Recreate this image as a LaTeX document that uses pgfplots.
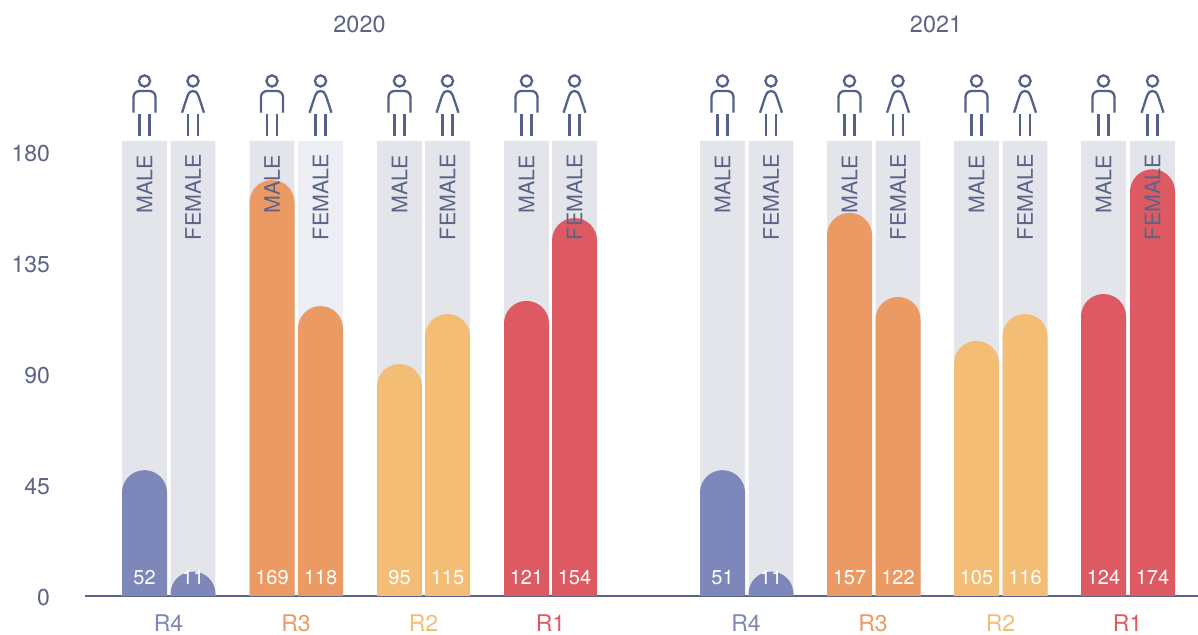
\documentclass[border=0pt]{standalone}
\usepackage{fontspec}
\setmainfont{TeX Gyre Heros}
\usepackage{pgfplots}
\pgfplotsset{compat=1.18}

\definecolor{colR4}{HTML}{7D87B9}
\definecolor{colR3}{HTML}{EB9A63}
\definecolor{colR2}{HTML}{F3BD76}
\definecolor{colR1}{HTML}{DE5A62}
\definecolor{colBack}{HTML}{E3E5EB}
\definecolor{colBackLight}{HTML}{ECEEF3}
\definecolor{colText}{HTML}{5B6488}
\definecolor{colIcon}{HTML}{56618A}

% rounded-top bar: centre x in px, height, printed value, colour
\newcommand{\rbar}[4]{%
  \addplot[fill=#4,draw=none,rounded corners=11.2pt] coordinates {
    (#1-22.5,-30) (#1-22.5,#2) (#1+22.5,#2) (#1+22.5,-30)} --cycle;
  \node[text=white,font=\fontsize{10}{12}\selectfont,inner sep=0pt,anchor=center]
    at (axis cs:#1,7.6) {#3};
}
\newcommand{\man}[1]{%
  \begin{scope}[xshift=#1*0.5pt,draw=colIcon,line width=1.15pt]
    \draw (0,81) circle[radius=5.6];
    \draw[rounded corners=3pt] (-11,112.7) -- (-11,91) -- (11,91) -- (11,112.7);
    \draw (-5,114.3) -- (-5,136) (5,114.3) -- (5,136);
  \end{scope}}
\newcommand{\woman}[1]{%
  \begin{scope}[xshift=#1*0.5pt,draw=colIcon,line width=1.15pt]
    \draw (0,81) circle[radius=5.6];
    \draw (-11,112.7) -- (-5.5,96) .. controls (-4,92) and (-2,91) .. (0,91) .. controls (2,91) and (4,92) .. (5.5,96) -- (11,112.7);
    \draw (-5,114.3) -- (-5,136) (5,114.3) -- (5,136);
  \end{scope}}

\begin{document}
\begin{tikzpicture}
\path[use as bounding box] (0,0) rectangle (599pt,317.5pt);
\begin{axis}[
  at={(42.5pt,19.5pt)},anchor=south west,
  scale only axis,width=556.5pt,height=298pt,
  xmin=85,xmax=1198,ymin=0,ymax=241.6,
  axis x line*=bottom,axis y line*=left,
  x axis line style={draw=colText,line width=1.4pt,-},
  y axis line style={draw=none},
  major tick length=0pt,
  ytick={0,45,90,135,180},
  y tick label style={font=\fontsize{11.5}{13}\selectfont,text=colText,xshift=-14pt,yshift=-0.7pt},
  xtick={168.5,296,423.5,550.5,746,873,1000.5,1127.5},
  xticklabels={\textcolor{colR4}{R4},\textcolor{colR3}{R3},\textcolor{colR2}{R2},\textcolor{colR1}{R1},
    \textcolor{colR4}{R4},\textcolor{colR3}{R3},\textcolor{colR2}{R2},\textcolor{colR1}{R1}},
  x tick label style={font=\fontsize{11.5}{11.5}\selectfont,inner sep=0pt,yshift=-9.2pt},
  /pgf/number format/assume math mode=true,
]
\addplot[ybar,bar width=22.4pt,bar shift=0pt,fill=colBack,draw=none] table[row sep=\\] {
x y\\ 144.5 184.5\\ 193 184.5\\ 272 184.5\\ 399.5 184.5\\ 447.5 184.5\\ 526.5 184.5\\ 574.5 184.5\\
722.5 184.5\\ 771 184.5\\ 849.5 184.5\\ 898 184.5\\ 976.5 184.5\\ 1025 184.5\\ 1103.5 184.5\\ 1152.5 184.5\\
};
\addplot[ybar,bar width=22.4pt,bar shift=0pt,fill=colBackLight,draw=none] coordinates {(320.5,184.5)};
\rbar{144.5}{51}{52}{colR4}
\rbar{193}{9.9}{11}{colR4}
\rbar{272}{168.6}{169}{colR3}
\rbar{320.5}{117.5}{118}{colR3}
\rbar{399.5}{94}{95}{colR2}
\rbar{447.5}{114.3}{115}{colR2}
\rbar{526.5}{119.6}{121}{colR1}
\rbar{574.5}{153.2}{154}{colR1}
\rbar{722.5}{51}{51}{colR4}
\rbar{771}{9.9}{11}{colR4}
\rbar{849.5}{155.3}{157}{colR3}
\rbar{898}{121.2}{122}{colR3}
\rbar{976.5}{103.4}{105}{colR2}
\rbar{1025}{114.3}{116}{colR2}
\rbar{1103.5}{122.4}{124}{colR1}
\rbar{1152.5}{173}{174}{colR1}
\end{axis}
% titles, icons and column captions, coordinates in reference pixels
\begin{scope}[x=0.5pt,y=-0.5pt,yshift=317.5pt]
  \node[text=colText,font=\fontsize{11.7}{14}\selectfont] at (359.5,24) {2020};
  \node[text=colText,font=\fontsize{11.7}{14}\selectfont] at (936,24) {2021};
  \foreach \c in {144.5,272,399.5,526.5,722.5,849.5,976.5,1103.5} {
    \man{\c}
    \node[rotate=90,anchor=east,inner sep=0pt,text=colText,font=\fontsize{10.7}{12}\selectfont] at (\c,154.5) {MALE};
  }
  \foreach \c in {193,320.5,447.5,574.5,771,898,1025,1152.5} {
    \woman{\c}
    \node[rotate=90,anchor=east,inner sep=0pt,text=colText,font=\fontsize{10.7}{12}\selectfont] at (\c,154) {FEMALE};
  }
\end{scope}
\end{tikzpicture}
\end{document}
